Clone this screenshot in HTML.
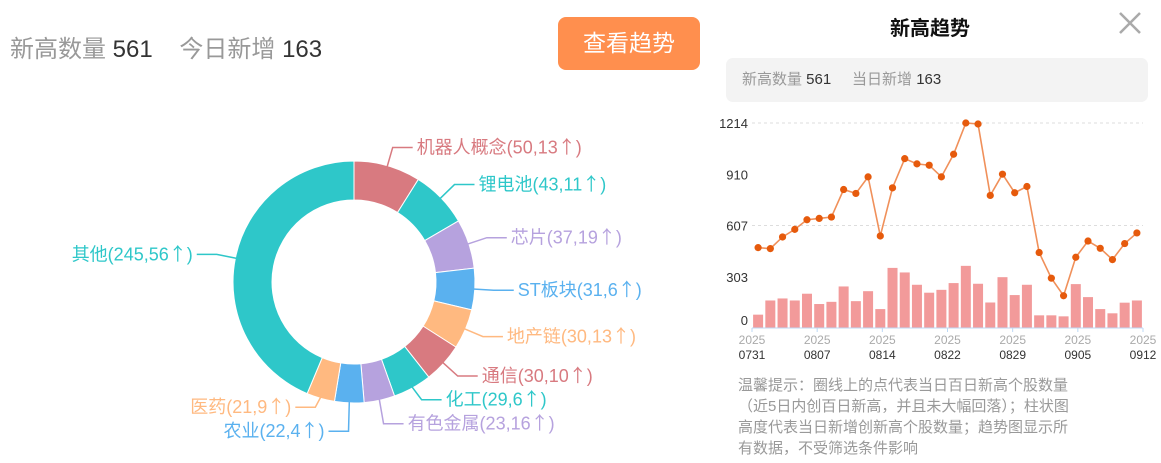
<!DOCTYPE html>
<html><head><meta charset="utf-8">
<style>
body{margin:0;width:1161px;height:463px;background:#fff;overflow:hidden;font-family:"Liberation Sans","Noto Sans CJK SC",sans-serif;position:relative}
.abs{position:absolute;white-space:nowrap}
</style></head>
<body>
<div class="abs" style="left:10px;top:29px;font-size:24px;color:#999">新高数量 <span style="color:#333">561</span>&nbsp;&nbsp;&nbsp;&nbsp;今日新增 <span style="color:#333">163</span></div>
<div class="abs" style="left:558px;top:17px;width:142px;height:53px;background:#ff8f4e;border-radius:8px;color:#fff;font-size:23px;line-height:53px;text-align:center">查看趋势</div>

<svg id="donut" class="abs" style="left:0;top:100px" width="720" height="363"></svg>

<div class="abs" style="left:890px;top:12px;font-size:20px;font-weight:bold;color:#111">新高趋势</div>
<svg class="abs" style="left:1118px;top:11px" width="24" height="24"><path d="M2 2L22 22M22 2L2 22" stroke="#aaa" stroke-width="2.5"/></svg>
<div class="abs" style="left:726px;top:58px;width:422px;height:44px;background:#f3f3f3;border-radius:7px;font-size:15px;line-height:44px;color:#999;padding-left:16px;box-sizing:border-box">新高数量 <span style="color:#333">561</span>&nbsp;&nbsp;&nbsp;&nbsp;&nbsp;当日新增 <span style="color:#333">163</span></div>

<svg id="trend" class="abs" style="left:0;top:0" width="1161" height="463"></svg>

<div class="abs" style="left:738px;top:375px;font-size:15px;line-height:21px;color:#999">温馨提示：圈线上的点代表当日百日新高个股数量<br>（近5日内创百日新高，并且未大幅回落）；柱状图<br>高度代表当日新增创新高个股数量；趋势图显示所<br>有数据，不受筛选条件影响</div>

<script>
const sectorNames=["机器人概念","锂电池","芯片","ST板块","地产链","通信","化工","有色金属","农业","医药","其他"];
const sectorCounts=[50,43,37,31,30,30,29,23,22,21,245];
const sectorNew=[13,11,19,6,13,10,6,16,4,9,56];
const sectorColors=["#d87a80","#2ec7c9","#b6a2de","#5ab1ef","#ffb980","#d87a80","#2ec7c9","#b6a2de","#5ab1ef","#ffb980","#2ec7c9"];

const dates=["0731","0807","0814","0822","0829","0905","0912"];
const lineVals=[476,470,539,584,641,649,657,820,797,895,545,830,1003,972,964,895,1029,1214,1208,785,911,801,838,447,295,191,419,515,472,405,500,563];
const barVals=[79,163,175,163,203,142,155,246,159,218,112,356,329,256,209,226,266,368,262,151,301,195,256,75,75,69,260,183,112,87,150,163];
const yTicks=[0,303,607,910,1214];

const NS="http://www.w3.org/2000/svg";
function mk(parent,tag,attrs,text){const e=document.createElementNS(NS,tag);for(const k in attrs)e.setAttribute(k,attrs[k]);if(text!=null)e.textContent=text;parent.appendChild(e);return e;}

// donut
(function(){
const svg=document.getElementById('donut');
const cx=354,cy=182,R=121,r=82,total=sectorCounts.reduce((a,b)=>a+b,0);
let acc=0;
const pt=(a,rad)=>[cx+Math.sin(a)*rad,cy-Math.cos(a)*rad];
const labels=[];
sectorCounts.forEach((v,i)=>{
 const a0=acc/total*2*Math.PI;acc+=v;const a1=acc/total*2*Math.PI;
 const lg=(a1-a0)>Math.PI?1:0;
 const [x0,y0]=pt(a0,R),[x1,y1]=pt(a1,R),[x2,y2]=pt(a1,r),[x3,y3]=pt(a0,r);
 const p=mk(svg,'path',{d:`M${x0} ${y0}A${R} ${R} 0 ${lg} 1 ${x1} ${y1}L${x2} ${y2}A${r} ${r} 0 ${lg} 0 ${x3} ${y3}Z`,fill:sectorColors[i],stroke:'#fff','stroke-width':1});
 
 
 const am=(a0+a1)/2;
 const [sx,sy]=pt(am,R-2),[ex,ey]=pt(am,140);
 labels.push({i,v,sx,sy,ex,ey,ly:ey,right:Math.sin(am)>=0});
});
[true,false].forEach(side=>{
 const L=labels.filter(l=>l.right===side).sort((a,b)=>a.ly-b.ly);
 for(let k=1;k<L.length;k++){const d=L[k].ly-L[k-1].ly;if(d<24){const s=(24-d)/2;L[k-1].ly-=s;L[k].ly+=s;}}
});
labels.forEach(l=>{
 const i=l.i,right=l.right;
 const hx=l.ex+(right?20:-20);
 const ln=mk(svg,'polyline',{points:`${l.sx},${l.sy} ${l.ex},${l.ly} ${hx},${l.ly}`,fill:'none',stroke:sectorColors[i],'stroke-width':1.5});
 
 
 const t=mk(svg,'text',{x:hx+(right?4:-4),y:l.ly+6,'font-size':18,fill:sectorColors[i],'text-anchor':right?'start':'end'});
 
 
 t.appendChild(document.createTextNode(`${sectorNames[i]}(${l.v},${sectorNew[i]}`));
 mk(t,'tspan',{'font-family':'"Noto Sans CJK SC",sans-serif'},'↑');
 t.appendChild(document.createTextNode(')'));
});
})();

// trend chart
(function(){
const svg=document.getElementById('trend');
const x0=752,x1=1143,y0=328,yTop=123,maxV=1214,n=lineVals.length;
const bw=(x1-x0)/n;
const X=i=>x0+(i+0.5)*bw;
const Y=v=>y0-v/maxV*(y0-yTop);
[607,1214].forEach(v=>{const g=mk(svg,'line',{x1:x0,x2:x1,y1:Y(v),y2:Y(v),stroke:'#ddd','stroke-dasharray':'3,3'});
 
 });
yTicks.forEach(v=>{const t=mk(svg,'text',{x:748,y:v===0?Y(v)-3:Y(v)+5,'font-size':13,fill:'#333','text-anchor':'end'},String(v));
 
 });
barVals.forEach((v,i)=>{const b=mk(svg,'rect',{x:X(i)-5,y:Y(v),width:10,height:y0-Y(v),fill:'#f29a9a'});
 
 });
const ax=mk(svg,'line',{x1:x0,x2:x1,y1:y0,y2:y0,stroke:'#bcd8f5','stroke-width':1});


dates.forEach((d,k)=>{const tx=x0+k*(x1-x0)/(dates.length-1);
 const tk=mk(svg,'line',{x1:tx,x2:tx,y1:y0,y2:y0+4,stroke:'#bcd8f5'});
 
 
 const a=mk(svg,'text',{x:tx,y:y0+16,'font-size':12,fill:'#aaa','text-anchor':'middle'},'2025');
 
 
 const b=mk(svg,'text',{x:tx,y:y0+31,'font-size':12,fill:'#333','text-anchor':'middle'},d);
 
 });
const pl=mk(svg,'polyline',{points:lineVals.map((v,i)=>X(i)+','+Y(v)).join(' '),fill:'none',stroke:'#f0905a','stroke-width':1.6});


lineVals.forEach((v,i)=>{const c=mk(svg,'circle',{cx:X(i),cy:Y(v),r:3.6,fill:'#e65a0c'});
 
 });
})();
</script>
</body></html>
